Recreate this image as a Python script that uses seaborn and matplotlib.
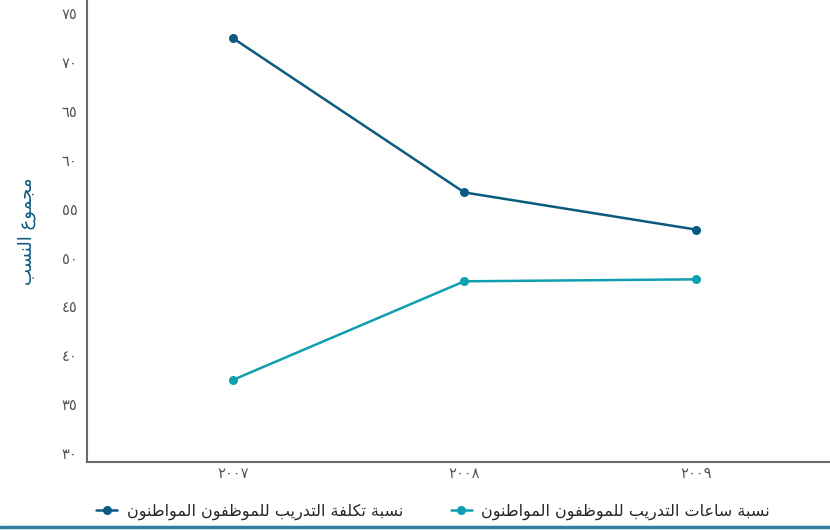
import numpy as np
import pandas as pd
import matplotlib
matplotlib.use("Agg")
import matplotlib.pyplot as plt
from matplotlib.lines import Line2D
import seaborn as sns

# data
years = ["٢٠٠٧", "٢٠٠٨", "٢٠٠٩"]
cost_share = [73.4, 57.6, 53.8]     # نسبة تكلفة التدريب
hours_share = [38.4, 48.5, 48.7]    # نسبة ساعات التدريب
series_names = ["نسبة تكلفة التدريب للموظفون المواطنون",
                "نسبة ساعات التدريب للموظفون المواطنون"]
y_ticks = [30, 35, 40, 45, 50, 55, 60, 65, 70, 75]
y_title = "مجموع النسب"

colors = ["#0b5a80", "#0fa0b0"]

# minimal arabic shaping (no arabic_reshaper in the sandbox)
# letter: (isolated, final, initial, medial) ; 2-tuple = joins only to the right
FORMS = {
    "ا": (0xFE8D, 0xFE8E), "ب": (0xFE8F, 0xFE90, 0xFE91, 0xFE92),
    "ة": (0xFE93, 0xFE94), "ت": (0xFE95, 0xFE96, 0xFE97, 0xFE98),
    "ج": (0xFE9D, 0xFE9E, 0xFE9F, 0xFEA0), "د": (0xFEA9, 0xFEAA),
    "ر": (0xFEAD, 0xFEAE), "س": (0xFEB1, 0xFEB2, 0xFEB3, 0xFEB4),
    "ط": (0xFEC1, 0xFEC2, 0xFEC3, 0xFEC4), "ظ": (0xFEC5, 0xFEC6, 0xFEC7, 0xFEC8),
    "ع": (0xFEC9, 0xFECA, 0xFECB, 0xFECC), "ف": (0xFED1, 0xFED2, 0xFED3, 0xFED4),
    "ك": (0xFED9, 0xFEDA, 0xFEDB, 0xFEDC), "ل": (0xFEDD, 0xFEDE, 0xFEDF, 0xFEE0),
    "م": (0xFEE1, 0xFEE2, 0xFEE3, 0xFEE4), "ن": (0xFEE5, 0xFEE6, 0xFEE7, 0xFEE8),
    "و": (0xFEED, 0xFEEE), "ي": (0xFEF1, 0xFEF2, 0xFEF3, 0xFEF4),
}


def shape(text):
    out = []
    n = len(text)
    for i, ch in enumerate(text):
        if ch not in FORMS:
            out.append(ch)
            continue
        f = FORMS[ch]
        prev = text[i - 1] if i > 0 else ""
        nxt = text[i + 1] if i < n - 1 else ""
        join_prev = prev in FORMS and len(FORMS[prev]) == 4
        join_next = len(f) == 4 and nxt in FORMS
        if join_prev and join_next:
            out.append(chr(f[3]))
        elif join_prev:
            out.append(chr(f[1]))
        elif join_next:
            out.append(chr(f[2]))
        else:
            out.append(chr(f[0]))
    return "".join(out)[::-1]


def to_arabic_digits(v):
    return str(v).translate(str.maketrans("0123456789", "٠١٢٣٤٥٦٧٨٩"))


sns.set_style("white")
plt.rcParams["font.family"] = ["DejaVu Sans"]

fig = plt.figure(figsize=(8.3, 5.3), dpi=100)
ax = fig.add_axes([0.1048, 0.1283, 0.8952, 0.8717])

for vals, name, col in zip([cost_share, hours_share], series_names, colors):
    sns.lineplot(x=years, y=vals, ax=ax, color=col, marker="o", markersize=6.5,
                 markeredgewidth=0, linewidth=1.8, label=shape(name))

ax.set_xlim(-0.63, 2.58)
ax.set_ylim(30, 77.3)
ax.set_yticks(y_ticks)
ax.set_yticklabels([to_arabic_digits(t) for t in y_ticks])
for lab in ax.get_yticklabels():
    lab.set_va("bottom")
ax.tick_params(axis="both", length=0, colors="#555555", labelsize=10.5)
ax.tick_params(axis="y", pad=7)
ax.tick_params(axis="x", pad=3)

ax.set_xlabel("")
ax.set_ylabel(shape(y_title), color=colors[0], fontsize=13)
ax.yaxis.set_label_coords(-0.068, 0.5)

sns.despine(ax=ax)
for side in ["left", "bottom"]:
    ax.spines[side].set_color("#6a6a6a")
    ax.spines[side].set_linewidth(1.5)

ax.legend(loc="center", bbox_to_anchor=(0.522, 0.034), bbox_transform=fig.transFigure,
          ncol=2, frameon=False, fontsize=11.5, handlelength=1.3, handletextpad=0.6,
          columnspacing=3.0)

# decorative rule along the bottom edge
fig.add_artist(Line2D([0.0, 1.0], [0.005, 0.005], transform=fig.transFigure,
                      color="#2f7fa0", linewidth=2.5, solid_capstyle="round"))

fig.savefig("out.png", dpi=100)
